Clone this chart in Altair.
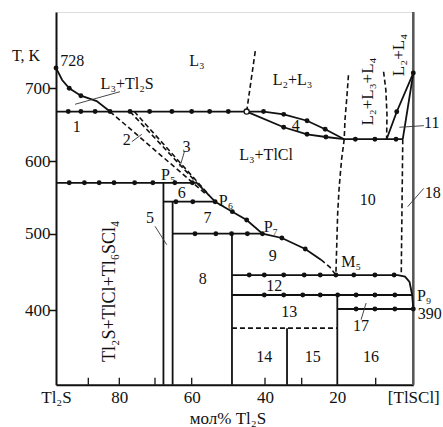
import altair as alt
import pandas as pd

FONT = "Liberation Serif"

# ---- axis calibration (hand-drawn, slightly non-uniform axes) ----
X_DOMAIN = [100, 90, 80, 70, 60, 50, 40, 30, 20, 10, 0]
X_RANGE = [0, 32.3, 63.3, 99, 135.7, 172.3, 209, 245.7, 281.3, 319.7, 357.3]
Y_DOMAIN = [300, 400, 500, 600, 700, 805]
Y_RANGE = [372.7, 298.3, 221.7, 149, 76.3, 0]

x_label_values = [100, 80, 60, 40, 20, 0]
x_minor_ticks = [90, 80, 70, 60, 40, 30, 10]
y_tick_values = [400, 500, 600, 700]

# ---- solid lines (мол% Tl2S, T K) ----
liquidus_top = [(100, 728), (98.1, 711.4), (95.9, 700), (92.3, 689.8), (87.3, 682.5), (83.0, 668)]
monotectic_668 = [(100, 668), (45.0, 668)]
lens_upper = [(45.0, 668), (40.4, 668), (34.9, 664.2), (28.5, 655.4), (23.4, 643.6), (18.2, 630)]
lens_lower = [(45.0, 668), (34.9, 646.4), (28.5, 636.7), (23.2, 633), (18.2, 630)]
line_630 = [(18.2, 630), (2.8, 630)]
l2l4_left = [(7.1, 630), (4.4, 667.8), (0, 721)]
l2l4_right = [(2.8, 630), (0, 721)]
line_570 = [(100, 570), (58.6, 570)]
liq_p5_p6 = [(58.6, 570), (53.6, 544)]
liq_p6_p7 = [(53.6, 544), (48.9, 530.3), (45.0, 518.8), (40.7, 500), (35.4, 494.4), (29.0, 480), (24.6, 466)]
line_544 = [(67.7, 544), (53.6, 544)]
line_500 = [(65.2, 500), (40.7, 500)]
vert_677 = [(67.7, 570), (67.7, 300)]
vert_652 = [(65.2, 544), (65.2, 300)]
vert_49 = [(49, 500), (49, 300)]
vert_34 = [(34, 376), (34, 300)]
vert_20 = [(20, 420), (20, 300)]
line_446 = [(49, 446), (4.1, 446), (2.2, 443.9), (1.0, 437), (0.3, 420), (0, 401.7)]
line_420 = [(49, 420), (0.3, 420)]
line_390 = [(20, 401.7), (0, 401.7)]

# ---- dashed lines ----
liq_line2 = [(83.0, 668), (56.4, 555.8)]
liq_line3a = [(77.0, 668), (58.6, 570)]
liq_line3b = [(75.8, 668), (55.2, 553)]
dash_top = [(45.0, 668), (42.6, 753)]
dash_curve1 = [(17.1, 718), (17.5, 688.4), (18.0, 656.4), (18.2, 630), (18.9, 601.4), (19.5, 564.6), (19.9, 528.5), (20.4, 446)]
dash_curve2 = [(7.9, 722.8), (7.3, 697.7), (7.0, 663.3), (7.1, 630)]
dash_right = [(2.8, 630), (3.0, 540), (3.2, 449)]
liq_to_m5 = [(24.6, 466), (22.1, 456.5), (20.4, 446)]
dash_376 = [(49, 376), (20, 376)]

# ---- thin leader lines ----
lead_l3tl2s = [(94.1, 678), (79.8, 695.3)]
lead_2 = [(76.5, 626.5), (73.7, 636.7)]
lead_3 = [(62.0, 612.8), (63.2, 592.2)]
lead_5 = [(70, 510.2), (66.8, 485.6)]
lead_17 = [(13.8, 387.4), (12.5, 409.5)]
lead_11 = [(3.7, 646.4), (-2.8, 648.6)]
lead_18 = [(1.5, 537.1), (-2.8, 562.4)]

# ---- experimental points ----
pts_liquidus = [(100, 728), (95.9, 700), (92.3, 689.8)]
pts_668 = [(96.2, 668), (92.3, 668), (87.8, 668), (83.0, 668), (77.0, 668), (71.5, 668),
           (65.4, 668), (60.0, 668), (55.1, 668), (50.0, 668), (40.4, 668)]
pts_lens = [(34.9, 664.2), (28.5, 655.4), (23.4, 643.6), (34.9, 646.4), (28.5, 636.7), (23.2, 633)]
pts_630 = [(15.3, 630), (10.2, 630), (4.6, 630), (4.4, 667.8), (0, 721)]
pts_570 = [(95.9, 570), (91.2, 570), (86.5, 570), (81.7, 570), (75.7, 570), (70.6, 570), (64.6, 570), (59.8, 570)]
pts_544 = [(64.3, 544), (59.7, 544), (53.6, 544)]
pts_curve = [(48.9, 530.3), (45.0, 518.8), (40.7, 500), (35.4, 494.4), (29.0, 480)]
pts_500 = [(59.1, 500), (53.4, 500), (49.1, 500), (44.8, 500)]
pts_446 = [(44.3, 446), (40.2, 446), (34.9, 446), (29.3, 446), (24.8, 446), (20.4, 446),
           (15.7, 446), (10.2, 446), (5.1, 446)]
pts_420 = [(40.2, 420), (34.9, 420), (29.7, 420), (24.8, 420), (19.9, 420), (15.1, 420), (10.2, 420), (4.9, 420)]
pts_390 = [(15.1, 401.7), (10.2, 401.7), (4.9, 401.7), (0, 401.7)]
pts_open = [(45.0, 668)]

# ---- labels ----
labels = [
    ("T, K", 109.3, 744.4), ("728", 95.0, 737.6), ("L₃", 58.6, 737.6), ("L₃+Tl₂S", 77.8, 705.9),
    ("1", 93.6, 647.2), ("2", 77.9, 628.9), ("3", 61.4, 619.7), ("P₅", 66.4, 580.7),
    ("5", 71.4, 521.6),
    ("6", 62.7, 555.6), ("P₆", 50.6, 545), ("7", 55.7, 521.2), ("P₇", 38.4, 509.1),
    ("8", 57.0, 440.5), ("9", 37.9, 470.5), ("M₅", 16.4, 462.8), ("12", 37.5, 432.1),
    ("13", 33.4, 397.3), ("14", 40.2, 337.2), ("15", 26.9, 337.2), ("16", 11.2, 337.2),
    ("17", 13.8, 378.5), ("P₉", -2.9, 419.3), ("390", -4.4, 395), ("10", 12.1, 546.4),
    ("18", -5.2, 555.6), ("11", -4.9, 651.9), ("4", 31.6, 648.1), ("L₃+TlCl", 39.7, 608.3),
    ("L₂+L₃", 32.5, 711.4),
]
rot_labels = [("L₂+L₃+L₄", 12.1, 695.5), ("L₂+L₄", 3.7, 745.8)]
rot_label_big = [("Tl₂S+TlCl+Tl₆SCl₄", 83.0, 424.8)]

solid_lines = dict(
    liquidus_top=liquidus_top, monotectic_668=monotectic_668, lens_upper=lens_upper,
    lens_lower=lens_lower, line_630=line_630, l2l4_left=l2l4_left, l2l4_right=l2l4_right,
    line_570=line_570, liq_p5_p6=liq_p5_p6, liq_p6_p7=liq_p6_p7, line_544=line_544,
    line_500=line_500, vert_677=vert_677, vert_652=vert_652, vert_49=vert_49, vert_34=vert_34,
    vert_20=vert_20, line_446=line_446, line_420=line_420, line_390=line_390)
dashed_lines = dict(liq_line2=liq_line2, liq_line3a=liq_line3a, liq_line3b=liq_line3b,
                    dash_top=dash_top, dash_curve1=dash_curve1, dash_curve2=dash_curve2,
                    dash_right=dash_right, liq_to_m5=liq_to_m5, dash_376=dash_376)
leader_lines = dict(lead_l3tl2s=lead_l3tl2s, lead_2=lead_2, lead_3=lead_3, lead_5=lead_5,
                    lead_17=lead_17, lead_11=lead_11, lead_18=lead_18)


def lines_df(d):
    rows = []
    for name, pts in d.items():
        for i, (x, t) in enumerate(pts):
            rows.append({"id": name, "ord": i, "x": x, "T": t})
    return pd.DataFrame(rows)


def pts_df(*lists):
    return pd.DataFrame([{"x": x, "T": t} for lst in lists for (x, t) in lst])


xs = alt.Scale(domain=X_DOMAIN, range=X_RANGE, nice=False, zero=False)
ys = alt.Scale(domain=Y_DOMAIN, range=Y_RANGE, nice=False, zero=False)

x_enc = alt.X("x:Q", scale=xs, axis=alt.Axis(
    values=x_label_values,
    labelExpr="datum.value == 100 ? 'Tl₂S' : (datum.value == 0 ? '[TlSCl]' : datum.label)",
    tickSize=0, grid=False, domainColor="#111", domainWidth=2, labelFont=FONT, labelFontSize=17,
    labelColor="#111", labelPadding=5, labelFlush=False, title="мол% Tl₂S", titleFont=FONT,
    titleFontSize=17, titleFontWeight="normal", titleColor="#111", titleX=171.5, titleY=34,
    titleBaseline="middle", titleAlign="center"))
y_enc = alt.Y("T:Q", scale=ys, axis=alt.Axis(
    values=y_tick_values, tickSize=7, tickWidth=1.5, tickColor="#111", grid=False,
    domainColor="#111", domainWidth=2, labelFont=FONT, labelFontSize=17, labelColor="#111",
    labelPadding=-1, title=None))

solid = alt.Chart(lines_df(solid_lines)).mark_line(color="#111", strokeWidth=1.8).encode(
    x=x_enc, y=y_enc, detail="id:N", order="ord:Q")
dashed = alt.Chart(lines_df(dashed_lines)).mark_line(color="#111", strokeWidth=1.6, strokeDash=[5, 3]).encode(
    x=x_enc, y=y_enc, detail="id:N", order="ord:Q")
leaders = alt.Chart(lines_df(leader_lines)).mark_line(color="#333", strokeWidth=0.9).encode(
    x=x_enc, y=y_enc, detail="id:N", order="ord:Q")

edge_df = pd.DataFrame({"x": [0], "T": [Y_DOMAIN[0]], "T2": [Y_DOMAIN[-1]]})
edge = alt.Chart(edge_df).mark_rule(color="#555", strokeWidth=2.5).encode(x=x_enc, y=y_enc, y2="T2:Q")

ticks_df = pd.DataFrame({"x": x_minor_ticks, "T": [300] * len(x_minor_ticks), "T2": [309.4] * len(x_minor_ticks)})
ticks = alt.Chart(ticks_df).mark_rule(color="#111", strokeWidth=1.3).encode(x=x_enc, y=y_enc, y2="T2:Q")

dots = alt.Chart(pts_df(pts_liquidus, pts_668, pts_lens, pts_630, pts_570, pts_544, pts_curve,
                        pts_500, pts_446, pts_420, pts_390)).mark_circle(
    color="#111", size=24, opacity=1).encode(x=x_enc, y=y_enc)
open_dot = alt.Chart(pts_df(pts_open)).mark_point(
    shape="circle", filled=True, fill="white", stroke="#111", strokeWidth=1.3, size=26, opacity=1).encode(
    x=x_enc, y=y_enc)

text_df = pd.DataFrame(labels, columns=["label", "x", "T"])
texts = alt.Chart(text_df).mark_text(font=FONT, fontSize=16, color="#111", align="center",
                                      baseline="middle").encode(x=x_enc, y=y_enc, text="label:N")
rot_df = pd.DataFrame(rot_labels, columns=["label", "x", "T"])
rtexts = alt.Chart(rot_df).mark_text(font=FONT, fontSize=17, color="#111", align="center",
                                      baseline="middle", angle=270).encode(x=x_enc, y=y_enc, text="label:N")
rot_big_df = pd.DataFrame(rot_label_big, columns=["label", "x", "T"])
rtexts_big = alt.Chart(rot_big_df).mark_text(font=FONT, fontSize=18, color="#111", align="center",
                                             baseline="middle", angle=270).encode(x=x_enc, y=y_enc, text="label:N")

chart = alt.layer(edge, ticks, solid, dashed, leaders, dots, open_dot, texts, rtexts, rtexts_big).properties(
    width=357.3, height=372.7,
    autosize=alt.AutoSizeParams(type="none"),
    padding={"left": 56, "top": 12, "right": 29.7, "bottom": 42.3},
).configure_view(stroke=None).configure(background="white")

chart.save("out.html", embed_options={"renderer": "svg", "actions": False})
